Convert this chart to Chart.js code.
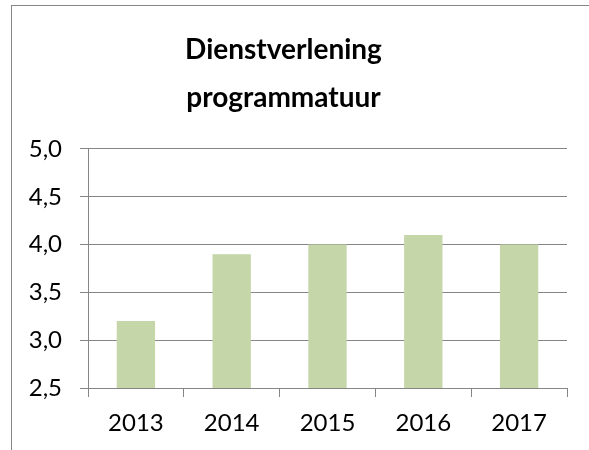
<!DOCTYPE html>
<html>
<head>
<meta charset="utf-8">
<script src="https://cdn.jsdelivr.net/npm/chart.js@4"></script>
<style>
  body { margin: 0; background: #fff; }
  #wrap { position: relative; width: 589px; height: 450px; overflow: hidden; }
  #frame {
    position: absolute; left: 11px; top: 5px; width: 700px; height: 600px;
    border: 1px solid #868686;
  }
  #chart { position: absolute; left: 0; top: 0; }
</style>
</head>
<body>
<div id="wrap">
  <div id="frame"></div>
  <canvas id="chart" width="589" height="450"></canvas>
</div>
<script>
// Chart data
const years = ['2013', '2014', '2015', '2016', '2017'];
const scores = [3.2, 3.9, 4.0, 4.1, 4.0];
const titleLines = ['Dienstverlening', 'programmatuur'];
const yMin = 2.5;
const yMax = 5.0;
const yStep = 0.5;

const FONT = "Lato, 'Open Sans', sans-serif";
const GRID = '#868686';

// Format with comma decimal
function formatTick(v) {
    return v.toFixed(1).replace('.', ',');
}

const ctx = document.getElementById('chart').getContext('2d');

new Chart(ctx, {
    type: 'bar',
    data: {
        labels: years,
        datasets: [{
            data: scores,
            backgroundColor: '#c5d6a9',
            borderWidth: 0,
            barPercentage: 0.4,
            categoryPercentage: 1.0
        }]
    },
    options: {
        responsive: false,
        animation: false,
        layout: {
            padding: { left: 0, right: 22, top: 0, bottom: 0 }
        },
        plugins: {
            legend: { display: false },
            tooltip: { enabled: false },
            title: {
                display: true,
                text: titleLines,
                color: '#000',
                font: { family: FONT, size: 28, weight: 'bold', lineHeight: 1.714 },
                padding: { top: 26, bottom: 27 }
            }
        },
        scales: {
            y: {
                min: yMin,
                max: yMax,
                afterFit: function(scale) { scale.width = 88; },
                ticks: {
                    stepSize: yStep,
                    color: '#000',
                    padding: 18,
                    font: { family: FONT, size: 24 },
                    callback: function(v) { return formatTick(v); }
                },
                grid: {
                    color: GRID,
                    lineWidth: 1,
                    tickLength: 8
                },
                border: { color: GRID, width: 1 }
            },
            x: {
                afterFit: function(scale) { scale.height = 62; },
                ticks: {
                    color: '#000',
                    padding: 12,
                    font: { family: FONT, size: 24 }
                },
                grid: {
                    offset: true,
                    drawOnChartArea: false,
                    color: GRID,
                    lineWidth: 1,
                    tickLength: 9
                },
                border: { color: GRID, width: 1 }
            }
        }
    }
});
</script>
</body>
</html>
